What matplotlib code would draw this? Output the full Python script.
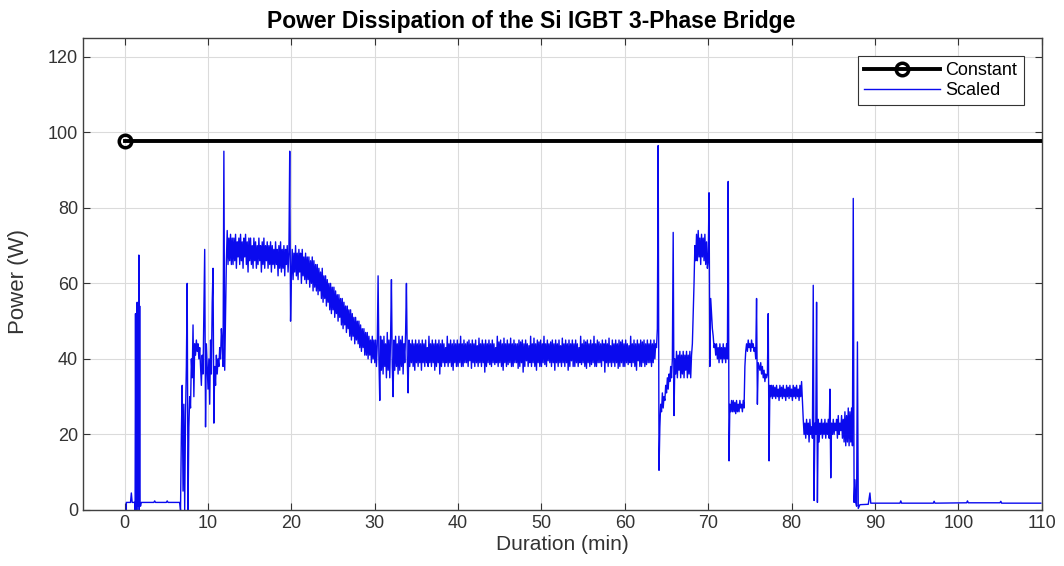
import numpy as np
import matplotlib.pyplot as plt

plt.rcParams['font.family'] = ['Liberation Sans', 'DejaVu Sans']

# constant dissipation reference (W)
const_t = [0, 110]
const_p = [97.6, 97.6]

# idle at the start, irregular sampling (min, W)
t_idle_a = [0.2, 0.2, 0.7, 0.8, 0.9, 1.2, 1.25, 1.3, 1.35, 1.4, 1.45, 1.5, 1.55, 1.6,
            1.65, 1.7, 1.75, 1.8, 1.85, 1.9, 2.0, 3.5, 3.6, 3.7, 5.0, 5.1, 5.2, 6.5]
p_idle_a = [0, 2, 2, 4.5, 2, 2, 0, 52, 1, 50, 0, 55, 1, 53,
            2, 67.5, 0, 54, 2, 1, 2, 2, 2.4, 2, 2, 2.4, 2, 2]

# ramp up, every 0.1 min from 6.6 to 12.9 min
p_ramp = [2, 0, 20, 33, 5, 28, 0, 25, 38, 60,
          0, 22, 30, 27, 40, 35, 49, 30, 44, 41,
          45, 42, 44, 40, 43, 38, 33, 41, 36, 52,
          69, 22, 44, 38, 32, 40, 28, 45, 36, 55,
          64, 23, 38, 33, 41, 36, 40, 38, 43, 40,
          48, 44, 38, 95, 37, 52, 66, 74, 65, 72,
          66, 73, 65, 72]

# the rest of the drive cycle, every 0.1 min from 13.0 min (one row per minute)
p_plateau = [65, 72, 66, 73, 64, 71, 67, 72, 65, 73,
             66, 71, 64, 72, 67, 73, 65, 71, 63, 72,
             66, 72, 65, 70, 64, 72, 66, 71, 64, 70,
             65, 72, 66, 70, 63, 71, 65, 72, 64, 70,
             66, 71, 64, 70, 65, 71, 63, 70, 65, 69,
             64, 71, 65, 69, 62, 70, 64, 71, 63, 69,
             64, 70, 62, 69, 65, 70, 63, 68, 95, 50]
p_cooldown = [62, 69, 61, 68, 63, 70, 62, 68, 61, 69,
              63, 68, 60, 69, 62, 67, 61, 68, 60, 67,
              61, 67, 59, 66, 60, 67, 58, 66, 59, 65,
              58, 65, 57, 64, 58, 63, 56, 64, 55, 62,
              56, 62, 54, 61, 55, 60, 53, 60, 52, 59,
              53, 59, 51, 58, 52, 57, 50, 57, 51, 56,
              49, 56, 48, 55, 49, 54, 47, 54, 48, 53,
              46, 53, 45, 52, 46, 51, 44, 51, 45, 50,
              44, 50, 43, 49, 42, 48, 43, 48, 41, 47,
              41, 47, 40, 46, 41, 45, 39, 46, 40, 45]
p_steady = [39, 45, 38, 44, 62, 40, 29, 46, 37, 45,
            36, 46, 38, 44, 35, 47, 37, 45, 35, 46,
            61, 38, 30, 45, 37, 46, 38, 44, 36, 46,
            37, 45, 38, 46, 36, 44, 39, 47, 60, 40,
            31, 45, 38, 44, 39, 45, 38, 44, 37, 45,
            39, 44, 38, 45, 39, 44, 37, 45, 39, 44,
            38, 45, 39, 43, 38, 46, 39, 44, 38, 45,
            39, 44, 37, 45, 38, 44, 39, 45, 36, 44,
            38, 45, 39, 44, 38, 43, 39, 46, 38, 44,
            39, 45, 38, 44, 37, 45, 39, 44, 38, 45,
            38, 44, 39, 46, 38, 44, 38, 45, 39, 44,
            39, 44.5, 38, 45, 39.5, 44, 37.5, 45, 39, 44,
            38, 45, 39, 43.5, 38, 45.5, 39, 44, 38, 45,
            39, 44, 36.5, 45, 38, 44, 39, 45, 38.5, 44,
            38, 45, 39, 44, 38.5, 43, 39, 46, 38, 44.5,
            39, 45, 38, 44, 37, 45.5, 39, 44, 38, 45,
            38.5, 44, 39, 45.5, 38, 44, 38, 45, 39, 44,
            39, 44, 37.5, 45, 38, 44.5, 39, 45, 36.5, 44,
            38, 45, 39.5, 44, 38, 43.5, 39, 46, 38, 44,
            39, 45.5, 38, 44, 37, 45, 39, 44.5, 38, 45,
            38, 44, 39, 46, 38.5, 44, 38, 45, 39.5, 44,
            39, 44.5, 38, 45, 39, 44, 37, 45, 39, 44,
            38, 45, 39, 43.5, 38, 45.5, 39, 44, 38, 45,
            39, 44, 37, 45, 38, 44, 39.5, 45, 38, 44,
            38, 45, 39, 44, 38, 43, 39, 46, 38.5, 44,
            39, 45, 38, 44.5, 37.5, 45, 39, 44, 38, 45,
            38.5, 44, 39, 46, 38, 44, 38, 45, 39, 44.5,
            39, 44, 38, 45, 39.5, 44, 36.5, 45, 39, 44,
            38, 45.5, 39, 43.5, 38, 45, 39, 44, 38, 45,
            39, 44, 37.5, 45, 38, 44.5, 39, 45, 38, 44,
            38, 45, 39, 44, 38.5, 43.5, 39, 46, 38, 44,
            39, 45, 38, 44, 37, 45, 39.5, 44, 38, 45,
            38, 44.5, 39, 45, 38, 44, 38.5, 45, 39, 44,
            39, 45, 38, 44, 39, 45, 40, 44, 43, 48]
p_dynamic = [96.5, 10.5, 22, 28, 26, 31, 27, 30, 29, 33,
             31, 35, 32, 36, 34, 38, 35, 40, 73.5, 25,
             40, 36, 42, 35, 41, 37, 42, 35, 41, 36,
             42, 35, 41, 37, 42, 35, 41, 36, 42, 35,
             41, 44, 52, 60, 70, 66, 73, 66, 74, 67,
             72, 65, 73, 67, 72, 66, 73, 65, 71, 64,
             66, 84, 38, 56, 52, 48, 46, 43, 44, 41,
             44, 40, 43, 39, 44, 40, 43, 39, 44, 40,
             43, 39, 44, 40, 87, 13, 28, 26, 29, 26,
             29, 26, 28.5, 25.5, 29, 26, 28, 26, 29, 27,
             28, 26, 29, 27, 38, 42, 44, 42, 45, 43,
             44, 42, 45, 43, 44, 42, 43, 40, 56, 28,
             39, 38, 37, 39, 36, 38, 35, 37, 34, 36,
             35, 36, 52, 13, 33, 30, 33, 29.5, 33, 30,
             32.5, 29.5, 33, 30, 32, 29, 33, 30, 32.5, 29.5,
             33, 30, 32, 29, 33, 30, 32.5, 29.5, 33, 30,
             32, 29, 33, 30, 32.5, 29.5, 33, 30, 32, 29,
             33, 30, 34, 29, 24, 20, 23, 19, 24, 20,
             23, 18, 24, 20, 22, 19, 59.5, 2.5, 23, 20,
             55, 2, 24, 18, 23, 20, 24, 19, 23, 20,
             24, 19, 23, 20, 24, 19, 32, 8.5, 23, 20,
             24, 20, 23, 21, 24, 19, 25, 20, 23, 21,
             25, 19, 24, 18, 26, 17, 25, 18, 27, 17,
             26, 18, 27, 17, 82.5, 2, 8, 2, 1, 44.5]

# idle at the end, irregular sampling
t_idle_b = [88.0, 88.2, 89.2, 89.3, 89.4, 89.5, 93.0, 93.1, 93.2, 97.0, 97.1, 97.2,
            101.0, 101.1, 101.2, 105.0, 105.1, 105.2, 109.9]
p_idle_b = [0.4, 1.4, 1.5, 3.0, 4.5, 1.8, 1.8, 2.4, 1.8, 1.8, 2.3, 1.8,
            1.9, 2.4, 1.9, 1.9, 2.3, 1.8, 1.8]

t_ramp = 6.6 + 0.1 * np.arange(len(p_ramp))
p_run = np.concatenate([p_plateau, p_cooldown, p_steady, p_dynamic])
t_run = 13.0 + 0.1 * np.arange(len(p_run))

t_scaled = np.concatenate([t_idle_a, t_ramp, t_run, t_idle_b])
p_scaled = np.concatenate([p_idle_a, p_ramp, p_run, p_idle_b])

fig = plt.figure(figsize=(10.64, 5.66), dpi=100)
ax = fig.add_axes([0.078, 0.099, 0.901, 0.834])

ax.plot(const_t, const_p, '-o', color='black', lw=2.8, ms=9, mfc='none', mew=2.5,
        markevery=[0], label='Constant', zorder=3)
ax.plot(t_scaled, p_scaled, color='#0a0aee', lw=1.0, label='Scaled', zorder=2)

ax.set_xlim(-5, 110)
ax.set_ylim(0, 125)
ax.set_xticks(np.arange(0, 111, 10))
ax.set_yticks(np.arange(0, 121, 20))
ax.grid(True, color='0.86', lw=0.8)
ax.set_axisbelow(True)
ax.tick_params(direction='in', top=True, right=True, length=5, width=0.8,
               colors='0.2', labelsize=13)
for s in ax.spines.values():
    s.set_color('0.25')
    s.set_linewidth(1.0)

ax.set_title('Power Dissipation of the Si IGBT 3-Phase Bridge', fontsize=16.5,
             fontweight='bold', pad=7, x=0.468)
ax.set_xlabel('Duration (min)', fontsize=15, color='0.2', labelpad=2)
ax.set_ylabel('Power (W)', fontsize=16, color='0.2')
ax.yaxis.set_label_coords(-0.056, 0.485)

leg = ax.legend(loc='upper right', fontsize=13, fancybox=False, framealpha=1,
                edgecolor='0.2', borderaxespad=1.0, handlelength=4.2,
                borderpad=0.35, labelspacing=0.15, handletextpad=0.3)
leg.get_frame().set_linewidth(0.8)
leg.get_lines()[1].set_linewidth(1.0)

fig.savefig('out.png', dpi=100)
